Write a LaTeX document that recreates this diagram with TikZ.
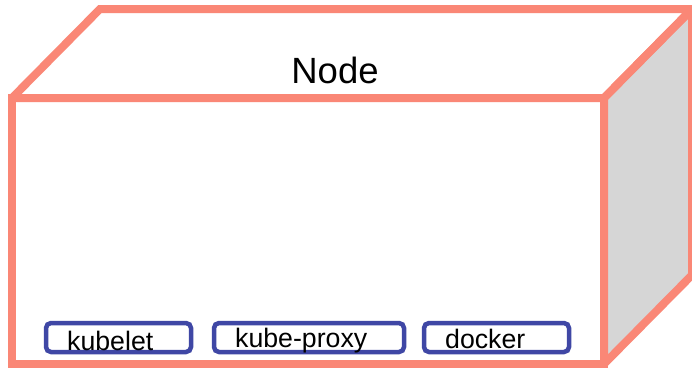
\documentclass[tikz,border=0pt]{standalone}
\usepackage{fontspec}
\setmainfont{Liberation Sans}
\definecolor{salmon}{RGB}{250,135,118}
\definecolor{navy}{RGB}{63,71,165}
\definecolor{sidegray}{RGB}{214,214,214}
\begin{document}
\begin{tikzpicture}[x=1pt,y=-1pt,
  edge/.style={draw=salmon,line width=8pt,line join=miter,miter limit=2},
  compbox/.style={draw=navy,line width=4.5pt,rounded corners=5pt,fill=white,inner sep=0pt,minimum height=29pt},
  comptext/.style={anchor=base west,inner sep=0pt,font=\fontsize{26.7}{28}\selectfont}]
\useasboundingbox (0,0) rectangle (692,368);
\fill[white] (0,0) rectangle (692,368);
% corners
\coordinate (ftl) at (12,98);
\coordinate (ftr) at (604,98);
\coordinate (fbr) at (604,364);
\coordinate (fbl) at (12,364);
\coordinate (btl) at (100,9);
\coordinate (btr) at (692,9);
\coordinate (bbr) at (692,275);
% right face
\path[fill=sidegray] (ftr) -- (btr) -- (bbr) -- (fbr) -- cycle;
% top face
\draw[edge] (ftl) -- (btl) -- (btr) -- (ftr) -- cycle;
% right face outline
\draw[edge] (ftr) -- (btr) -- (bbr) -- (fbr) -- cycle;
% front face
\draw[edge] (ftl) -- (ftr) -- (fbr) -- (fbl) -- cycle;
\node[anchor=base,inner sep=0pt,font=\fontsize{36.5}{40}\selectfont] (title) at (335,83) {Node};
% components
\node[compbox,minimum width=145pt] (kubelet) at (118.5,337.5) {};
\node[compbox,minimum width=190pt] (proxy) at (309,337.5) {};
\node[compbox,minimum width=145pt] (docker) at (496.5,337.5) {};
\node[comptext] (kubelettext) at (67,350) {kubelet};
\node[comptext] (proxytext) at (235,347) {kube-proxy};
\node[comptext] (dockertext) at (445,348) {docker};
\end{tikzpicture}
\end{document}
